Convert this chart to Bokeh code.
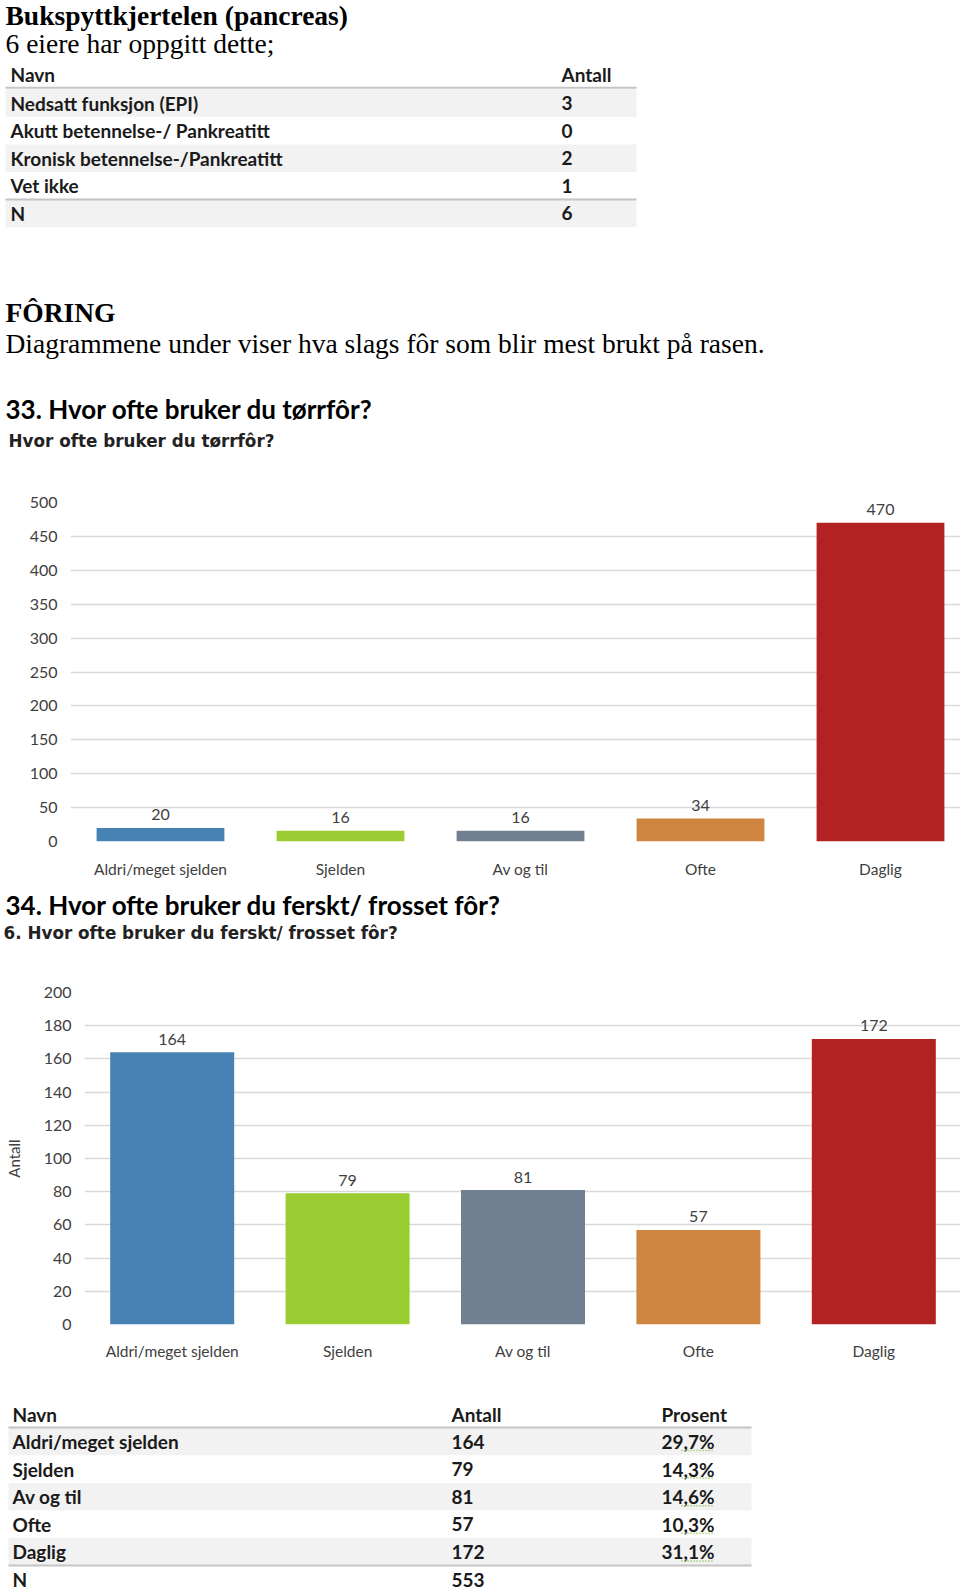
from bokeh.plotting import figure
from bokeh.layouts import column
from bokeh.models import Range1d, FixedTicker, ColumnDataSource
from bokeh.core.properties import value
from bokeh.embed import file_html
from bokeh.resources import INLINE

# ---------------- data ----------------
pancreas_names = ["Nedsatt funksjon (EPI)", "Akutt betennelse-/ Pankreatitt",
                  "Kronisk betennelse-/Pankreatitt", "Vet ikke", "N"]
pancreas_counts = [3, 0, 2, 1, 6]

freq_categories = ["Aldri/meget sjelden", "Sjelden", "Av og til", "Ofte", "Daglig"]
dry_counts = [20, 16, 16, 34, 470]
fresh_counts = [164, 79, 81, 57, 172]
fresh_percent = ["29,7%", "14,3%", "14,6%", "10,3%", "31,1%"]
fresh_n = 553
bar_colors = ["steelblue", "yellowgreen", "slategray", "peru", "firebrick"]
dry_ticks = [0, 50, 100, 150, 200, 250, 300, 350, 400, 450, 500]
fresh_ticks = [0, 20, 40, 60, 80, 100, 120, 140, 160, 180, 200]

W = 960
SERIF = value("Liberation Serif")
SANS = value("Lato")
WIDE = value("DejaVu Sans")
TXT = "#1a1a1a"
AX = "#404040"


def text_fig(h):
    f = figure(width=W, height=h, x_range=Range1d(0, W), y_range=Range1d(h, 0),
               x_axis_type=None, y_axis_type=None, output_backend="svg",
               toolbar_location=None, min_border=0, frame_align=False)
    f.grid.visible = False
    f.outline_line_color = None
    return f


def put(f, x, y, s, font, size, bold=False, color="black"):
    f.text(x=[x], y=[y], text=[s], text_font=font, text_font_size=size,
           text_font_style="bold" if bold else "normal", text_color=color,
           text_align="left", text_baseline="middle")


def table(f, names, cols, col_x, headers, header_y, line_y, row0, step, left, right, shaded,
          n_line_y, size):
    for i in shaded:
        cy = row0 + step * i
        f.quad(left=[left], right=[right], top=[cy - step / 2], bottom=[cy + step / 2],
               fill_color="#f2f2f2", line_color=None)
    f.segment(x0=[left, left], x1=[right, right], y0=[line_y, n_line_y], y1=[line_y, n_line_y],
              line_color="#c4c4c4", line_width=2)
    for hx, h in zip(col_x, headers):
        put(f, hx, header_y, h, SANS, size, True, TXT)
    ys = [row0 + step * i for i in range(len(names))]
    f.text(x=[col_x[0]] * len(names), y=ys, text=names, text_font=SANS,
           text_font_size=size, text_font_style="bold", text_color=TXT, text_baseline="middle")
    for cx, vals in zip(col_x[1:], cols):
        f.text(x=[cx] * len(vals), y=ys[:len(vals)], text=[str(v) for v in vals], text_font=SANS,
               text_font_size=size, text_font_style="bold", text_color=TXT, text_baseline="middle")
    return ys


# ---------------- section A: header texts + table 1 ----------------
HA = 470
a = text_fig(HA)
put(a, 5, 14.5, "Bukspyttkjertelen (pancreas)", SERIF, "27.5px", True)
put(a, 5, 43, "6 eiere har oppgitt dette;", SERIF, "27.5px")
table(a, pancreas_names, [pancreas_counts], [10, 561], ["Navn", "Antall"],
      74, 87.3, 102.5, 27.6, 5, 636, [0, 2, 4], 199, "19px")
put(a, 5, 312, "FÔRING", SERIF, "27.5px", True)
put(a, 5, 343, "Diagrammene under viser hva slags fôr som blir mest brukt på rasen.", SERIF, "27.5px")
put(a, 5, 408, "33. Hvor ofte bruker du tørrfôr?", SANS, "26px", True)
put(a, 8, 440.5, "Hvor ofte bruker du tørrfôr?", WIDE, "16.8px", True, "#222222")


# ---------------- bar chart helper ----------------
def bar_chart(counts, ticks, h, b_top, b_bottom, b_left, cat_px, bar_w, x_standoff,
              axis_label=None):
    frame_w = W - b_left
    n = len(freq_categories)
    xs = [i + 0.5 for i in range(n)]
    p = figure(width=W, height=h, x_range=Range1d(0, frame_w / cat_px),
               y_range=Range1d(ticks[0], ticks[-1]), output_backend="svg",
               toolbar_location=None, min_border_top=b_top, min_border_bottom=b_bottom,
               min_border_left=b_left, min_border_right=0, frame_align=False)
    p.outline_line_color = None
    p.xgrid.visible = False
    p.ygrid.grid_line_color = "#d9d9d9"
    p.ygrid.grid_line_width = 1.5
    p.yaxis.ticker = FixedTicker(ticks=ticks)
    p.xaxis.ticker = FixedTicker(ticks=xs)
    p.xaxis.major_label_overrides = {x: c for x, c in zip(xs, freq_categories)}
    for ax in (p.xaxis[0], p.yaxis[0]):
        ax.axis_line_color = None
        ax.major_tick_line_color = None
        ax.minor_tick_line_color = None
        ax.major_tick_out = 0
        ax.major_tick_in = 0
        ax.minor_tick_out = 0
        ax.minor_tick_in = 0
        ax.major_label_text_font = "Lato"
        ax.major_label_text_color = AX
    p.yaxis.major_label_text_font_size = "16px"
    p.xaxis.major_label_text_font_size = "15.5px"
    p.yaxis.major_label_standoff = 13
    p.xaxis.major_label_standoff = x_standoff
    if axis_label:
        p.yaxis.axis_label = axis_label
        p.yaxis.axis_label_text_font = "Lato"
        p.yaxis.axis_label_text_font_style = "normal"
        p.yaxis.axis_label_text_font_size = "15px"
        p.yaxis.axis_label_text_color = AX
        p.yaxis.axis_label_standoff = 18
    src = ColumnDataSource(dict(x=xs, top=counts, color=bar_colors,
                                label=[str(c) for c in counts]))
    p.vbar(x="x", top="top", width=bar_w, source=src, fill_color="color", line_color=None)
    p.text(x="x", y="top", text="label", source=src, text_align="center",
           text_baseline="middle", y_offset=-13, text_font=SANS,
           text_font_size="16px", text_color=AX)
    return p


# ---------------- section B: chart 1 ----------------
b = bar_chart(dry_counts, dry_ticks, 410, 32, 38, 70, 180, 0.71, 18)

# ---------------- section C: headings of chart 2 ----------------
c = text_fig(70)
put(c, 5, 24, "34. Hvor ofte bruker du ferskt/ frosset fôr?", SANS, "26px", True)
put(c, 3, 52.5, "6. Hvor ofte bruker du ferskt/ frosset fôr?", WIDE, "16.8px", True, "#222222")

# ---------------- section D: chart 2 ----------------
d = bar_chart(fresh_counts, fresh_ticks, 415, 42, 41, 84, 175.4, 0.707, 17, axis_label="Antall")

# ---------------- section E: table 2 ----------------
e = text_fig(227)
ys2 = table(e, freq_categories + ["N"], [fresh_counts + [fresh_n], fresh_percent], [12, 451, 661],
            ["Navn", "Antall", "Prosent"], 48.6, 62, 76, 27.6, 8, 751, [0, 2, 4], 200, "19px")
# spell-check squiggles under the percentages (as in the source document)
e.segment(x0=[661 + 20] * len(fresh_percent), x1=[661 + 52] * len(fresh_percent),
          y0=[y + 9 for y in ys2[:len(fresh_percent)]], y1=[y + 9 for y in ys2[:len(fresh_percent)]],
          line_color="#7fbf3f", line_width=1.5, line_dash="1 2")

page = column(a, b, c, d, e, spacing=0)
open("out.html", "w").write(file_html(page, INLINE))
